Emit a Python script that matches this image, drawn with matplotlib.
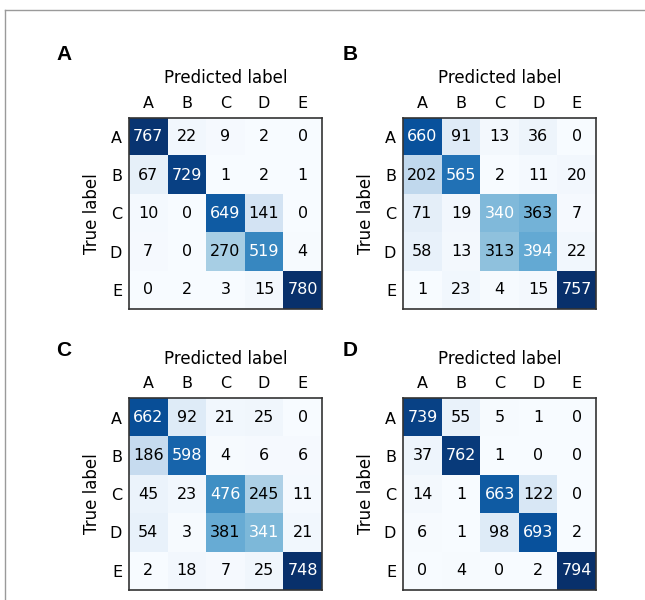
import numpy as np
import matplotlib
matplotlib.use('Agg')
import matplotlib.pyplot as plt
from matplotlib.lines import Line2D

# class names shared by all four panels
classes = ['A', 'B', 'C', 'D', 'E']
panel_names = ['A', 'B', 'C', 'D']

# confusion matrices, rows = true label, columns = predicted label
cm_a = [[767, 22, 9, 2, 0],
        [67, 729, 1, 2, 1],
        [10, 0, 649, 141, 0],
        [7, 0, 270, 519, 4],
        [0, 2, 3, 15, 780]]
cm_b = [[660, 91, 13, 36, 0],
        [202, 565, 2, 11, 20],
        [71, 19, 340, 363, 7],
        [58, 13, 313, 394, 22],
        [1, 23, 4, 15, 757]]
cm_c = [[662, 92, 21, 25, 0],
        [186, 598, 4, 6, 6],
        [45, 23, 476, 245, 11],
        [54, 3, 381, 341, 21],
        [2, 18, 7, 25, 748]]
cm_d = [[739, 55, 5, 1, 0],
        [37, 762, 1, 0, 0],
        [14, 1, 663, 122, 0],
        [6, 1, 98, 693, 2],
        [0, 4, 0, 2, 794]]

matrices = [cm_a, cm_b, cm_c, cm_d]

fig = plt.figure(figsize=(6.45, 6.0), dpi=100)

# axes boxes in figure fractions
lefts = [0.200, 0.625, 0.200, 0.625]
bottoms = [0.485, 0.485, 0.017, 0.017]
w, h = 0.299, 0.319

for k, cm in enumerate(matrices):
    cm = np.array(cm)
    ax = fig.add_axes([lefts[k], bottoms[k], w, h])
    ax.imshow(cm, cmap='Blues', vmin=0, vmax=cm.max(), aspect='auto',
              interpolation='nearest')
    for i in range(len(classes)):
        for j in range(len(classes)):
            color = 'white' if i == j else 'black'
            ax.text(j, i, str(cm[i, j]), ha='center', va='center',
                    color=color, fontsize=11.5)
    ax.set_xticks(range(len(classes)))
    ax.set_yticks(range(len(classes)))
    ax.set_xticklabels(classes, fontsize=11.5)
    ax.set_yticklabels(classes, fontsize=11.5)
    ax.xaxis.tick_top()
    ax.xaxis.set_label_position('top')
    ax.tick_params(length=0, pad=5)
    ax.set_xlabel('Predicted label', fontsize=12, labelpad=9)
    ax.set_ylabel('True label', fontsize=12, labelpad=6)
    for s in ax.spines.values():
        s.set_color('#333333')
        s.set_linewidth(1.2)

    # bold panel letter
    fx = 64 / 645 if k % 2 == 0 else 350 / 645
    fy = 1 - 55 / 600 if k < 2 else 1 - 350 / 600
    fig.text(fx, fy, panel_names[k], fontsize=15, fontweight='bold',
             family='Liberation Sans', ha='center', va='center')

# thin frame along the top and left edges
fig.add_artist(Line2D([5 / 645, 1.0], [1 - 10 / 600, 1 - 10 / 600],
                      color='#9a9a9a', lw=1.0, transform=fig.transFigure))
fig.add_artist(Line2D([5 / 645, 5 / 645], [0.0, 1 - 10 / 600],
                      color='#9a9a9a', lw=1.0, transform=fig.transFigure))

fig.savefig('out.png', dpi=100)
